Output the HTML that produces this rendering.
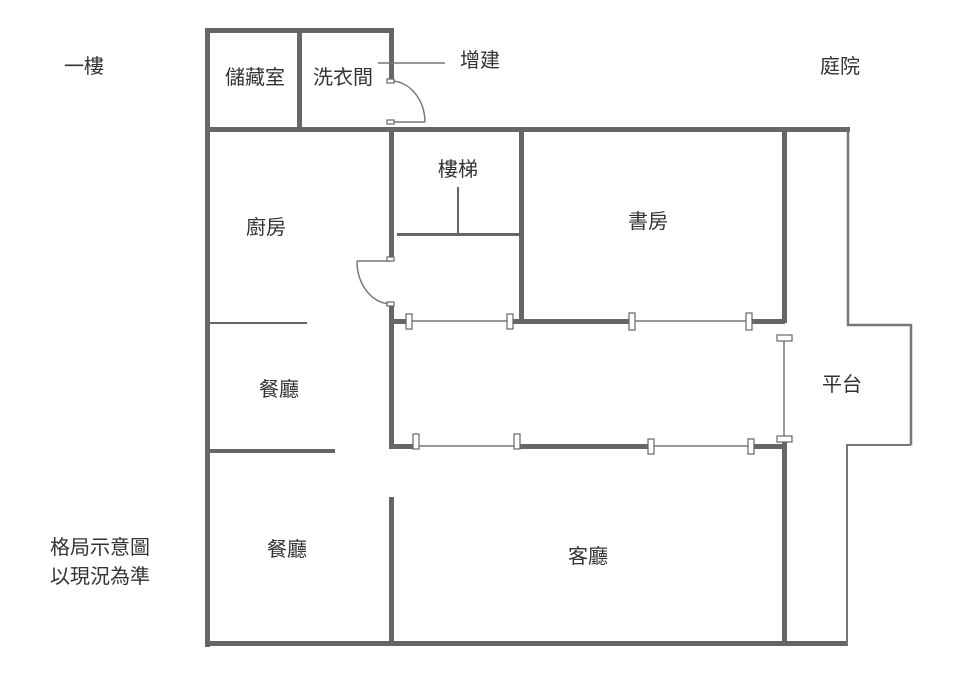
<!DOCTYPE html>
<html><head><meta charset="utf-8"><style>
html,body{margin:0;padding:0;background:#fff;}
svg{display:block;}
text{font-family:"Liberation Sans","Noto Sans CJK TC",sans-serif;font-size:20px;fill:#333;text-anchor:middle;dominant-baseline:central;}
</style></head><body>
<svg width="957" height="690" viewBox="0 0 957 690" xmlns="http://www.w3.org/2000/svg">
<g fill="#666">
<rect x="205" y="28" width="5" height="619"/>
<rect x="205" y="28" width="189" height="5"/>
<rect x="297" y="28" width="5" height="102"/>
<rect x="389" y="28" width="5" height="52"/>
<rect x="205" y="127" width="645" height="5"/>
<rect x="389" y="130" width="5" height="128"/>
<rect x="389" y="305" width="5" height="144"/>
<rect x="519" y="130" width="5" height="193"/>
<rect x="397" y="233" width="122" height="3"/>
<rect x="457" y="187" width="2" height="48"/>
<rect x="782" y="130" width="5" height="193"/>
<rect x="782" y="440" width="5" height="206"/>
<rect x="389" y="497" width="5" height="149"/>
<rect x="205" y="641" width="643" height="5"/>
<rect x="210" y="449" width="125" height="4"/>
<rect x="210" y="322" width="97" height="2"/>
<rect x="389" y="319" width="20" height="5"/>
<rect x="510" y="319" width="122" height="5"/>
<rect x="749" y="319" width="36" height="5"/>
<rect x="389" y="444" width="27" height="5"/>
<rect x="517" y="444" width="133" height="5"/>
<rect x="751" y="444" width="34" height="5"/>
</g>
<g stroke="#777" stroke-width="1.5" fill="none">
<line x1="378" y1="63" x2="445" y2="63"/>
<line x1="409" y1="321" x2="510" y2="321"/>
<line x1="632" y1="321" x2="749" y2="321"/>
<line x1="416" y1="446" x2="517" y2="446"/>
<line x1="650" y1="446" x2="751" y2="446"/>
<line x1="784" y1="338" x2="784" y2="440"/>
<polyline points="848,130 848,325 911,325 911,445" stroke-width="2.5"/>
<polyline points="911,445 847,445 847,645" stroke-width="2"/>
<path d="M425,122 A34,42 0 0 0 391,81"/>
<path d="M357,261 A34,43 0 0 0 391,304"/>
<polyline points="394,122 425,122"/>
<polyline points="391,261 357,261"/>
</g>
<g fill="#fff" stroke="#666" stroke-width="1.2">
<rect x="387" y="79" width="7" height="4"/>
<rect x="387" y="120" width="7" height="4"/>
<rect x="387" y="257" width="7" height="4"/>
<rect x="387" y="302" width="7" height="4"/>
<rect x="406" y="314" width="6" height="15"/>
<rect x="507" y="314" width="6" height="15"/>
<rect x="629" y="313" width="6" height="17"/>
<rect x="746" y="313" width="6" height="17"/>
<rect x="413" y="434" width="6" height="15"/>
<rect x="514" y="434" width="6" height="15"/>
<rect x="648" y="439" width="6" height="15"/>
<rect x="748" y="439" width="6" height="15"/>
<rect x="777" y="335" width="15" height="6"/>
<rect x="777" y="436" width="15" height="6"/>
</g>
<text x="84" y="67">一樓</text>
<text x="840" y="67">庭院</text>
<text x="480" y="61">增建</text>
<text x="255" y="78">儲藏室</text>
<text x="343" y="78">洗衣間</text>
<text x="458" y="170">樓梯</text>
<text x="648" y="222">書房</text>
<text x="266" y="228">廚房</text>
<text x="279" y="390">餐廳</text>
<text x="842" y="385">平台</text>
<text x="287" y="550">餐廳</text>
<text x="588" y="557">客廳</text>
<text x="100" y="548">格局示意圖</text>
<text x="100" y="577">以現況為準</text>
</svg>
</body></html>
